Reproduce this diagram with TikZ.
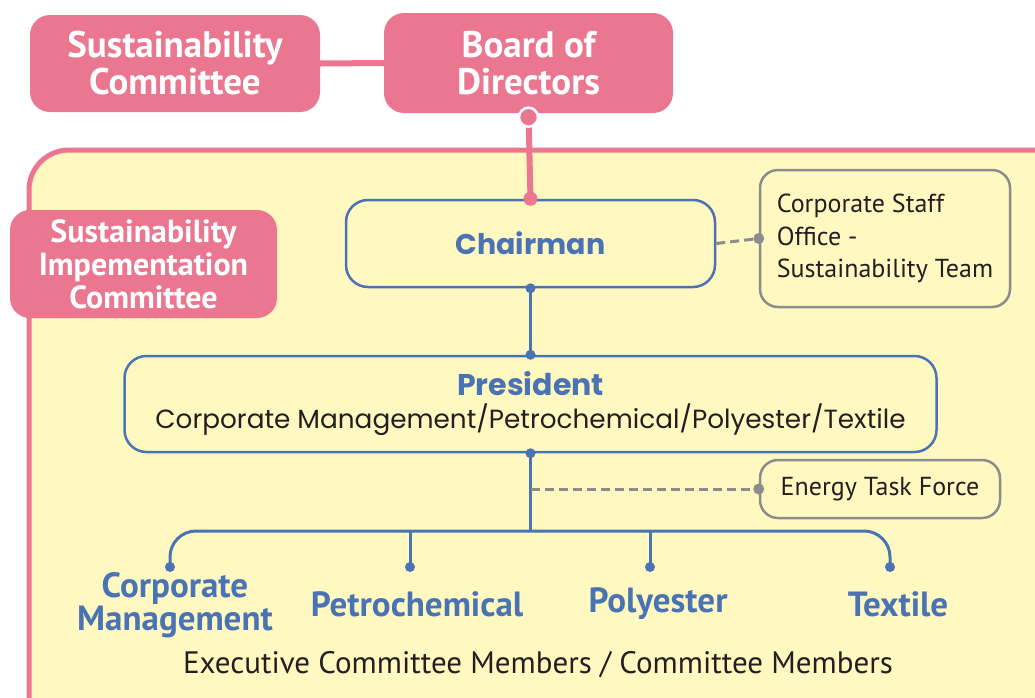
\documentclass[tikz,border=0pt]{standalone}
\usepackage{fontspec}
\setmainfont{PT Sans}
\newfontfamily\widefont{Poppins}
\usetikzlibrary{positioning}

\definecolor{pinkbox}{RGB}{234,118,144}
\definecolor{yellowbg}{RGB}{255,248,192}
\definecolor{blueline}{RGB}{74,115,179}
\definecolor{grayline}{RGB}{140,140,140}
\definecolor{textdark}{RGB}{35,31,32}

\tikzset{
  pinkbox/.style={fill=pinkbox, draw=none, rounded corners=20, text=white,
    align=center, inner sep=0pt, font=\fontsize{37}{37}\selectfont\bfseries},
  bluebox/.style={draw=blueline, line width=2.5, rounded corners=22, inner sep=0pt,
    align=center},
  graybox/.style={draw=grayline, line width=2.5, rounded corners=18, text=textdark,
    inner sep=0pt, font=\fontsize{26}{32.5}\selectfont},
  divlabel/.style={text=blueline, align=center, inner sep=0pt,
    font=\fontsize{35}{33}\selectfont\bfseries},
  pinkline/.style={draw=pinkbox, line width=6},
  bluelink/.style={draw=blueline, line width=3},
  graylink/.style={draw=grayline, line width=3, dash pattern=on 9pt off 5pt}
}

\begin{document}
\begin{tikzpicture}[x=1pt,y=-1pt]
  \useasboundingbox (0,0) rectangle (1035,697);

  % committee frame
  \filldraw[fill=yellowbg, draw=pinkbox, line width=5, rounded corners=40] (29,150) rectangle (1080,745);

  \node[pinkbox, minimum width=290, minimum height=97] (sustcom) at (175,63.5) {Sustainability\\Committee};
  \node[pinkbox, minimum width=289, minimum height=100] (board) at (528.5,63) {Board of\\Directors};
  \node[pinkbox, minimum width=267, minimum height=108, font=\fontsize{32}{33}\selectfont\bfseries] (implcom) at (143.5,264) {Sustainability\\Impementation\\Committee};

  \node[bluebox, minimum width=369, minimum height=87, text=blueline,
    font=\widefont\fontsize{28.5}{30}\selectfont\bfseries] (chair) at (530.5,243.5) {Chairman};
  \node[graybox, minimum width=250, minimum height=137, align=left] (staff) at (885,238.5) {Corporate Staff\\Office -\\Sustainability Team};

  \node[bluebox, minimum width=812, minimum height=96] (pres) at (530.5,404)
    {{\widefont\fontsize{30}{36}\selectfont\bfseries\color{blueline}President}\\[7pt]
     {\widefont\fontsize{26.3}{34}\selectfont\color{textdark}Corporate Management/Petrochemical/Polyester/Textile}};
  \node[graybox, minimum width=240, minimum height=58] (energy) at (880,489) {Energy Task Force};

  \draw[pinkline] (sustcom.east) -- (board.west);
  \draw[pinkline] (board.south) -- (chair.north);
  \filldraw[fill=pinkbox, draw=white, line width=2.5] (board.south) ++(0,4) circle (9.5);
  \fill[pinkbox] (chair.north) circle (7);

  \draw[graylink] (chair.east) -- (staff.west);
  \fill[grayline] (staff.west) circle (5.5);

  \draw[bluelink] (chair.south) -- (pres.north);
  \fill[blueline] (chair.south) circle (5);
  \fill[blueline] (pres.north) circle (5);

  % branches
  \coordinate (branch) at (530.5,531);
  \coordinate (tap) at (pres.south |- energy.west);
  \coordinate (d1) at (170,567);
  \coordinate (d2) at (410,567);
  \coordinate (d3) at (650,567);
  \coordinate (d4) at (890,567);

  \draw[bluelink] (pres.south) -- (branch);
  \fill[blueline] (pres.south) circle (5);
  \draw[graylink] (tap) -- (energy.west);
  \fill[grayline] (energy.west) circle (5.5);

  \draw[bluelink, rounded corners=26] (d1) |- (branch) -| (d4);
  \foreach \d in {d2,d3}
    \draw[bluelink] (\d) -- (\d |- branch);
  \foreach \i in {1,...,4}
    \fill[blueline] (d\i) circle (5);

  \node[divlabel] (corpmgmt) at (175,605) {Corporate\\Management};
  \node[divlabel] (petro) at (417,604) {Petrochemical};
  \node[divlabel] (poly) at (658,604) {Polyester};
  \node[divlabel] (textile) at (898,604) {Textile};

  \node[text=textdark, inner sep=0pt, font=\fontsize{31}{30}\selectfont] (members) at (538,665) {Executive Committee Members / Committee Members};
\end{tikzpicture}
\end{document}
